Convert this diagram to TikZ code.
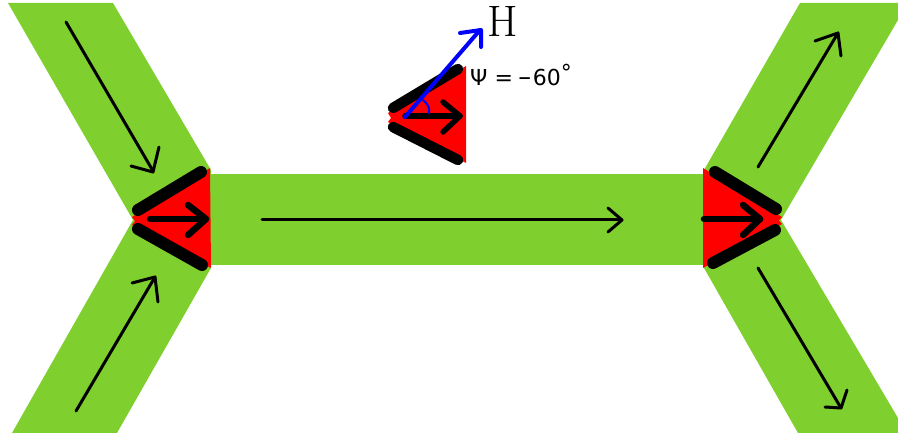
\documentclass[tikz,border=0pt]{standalone}
\usepackage{fontspec}
\usepackage{graphicx}
\newfontfamily\labelfont{DejaVu Sans}
\definecolor{arm}{HTML}{7FCF2F}
\tikzset{
  armfill/.style={fill=arm,draw=none},
  flow/.style={draw=black,line width=3pt,line cap=round,line join=round},
  wedge/.style={fill=red,draw=none},
  wall/.style={draw=black,line width=12pt,line cap=round},
  inner/.style={draw=black,line width=6.5pt,line cap=round,line join=round},
  field/.style={draw=blue,line width=4pt,line cap=round,line join=round},
}
\begin{document}
\begin{tikzpicture}[x=1pt,y=-1pt]
\useasboundingbox (0,0) rectangle (898,435);
% arms and central bar
\fill[armfill] (8,3) -- (113,3) -- (211,170) -- (211,268) -- (117,433) -- (12,433) -- (133,220) -- cycle;
\fill[armfill] (207,174) rectangle (706,265);
\fill[armfill] (800,3) -- (898,3) -- (898,20) -- (781,220) -- (898,418) -- (898,433) -- (798,433) -- (704,268) -- (704,170) -- cycle;
% left wedge
\fill[wedge] (132,217) -- (210,168) -- (211,268) -- (132,225) -- (135,221) -- cycle;
\draw[wall] (138,210) -- (201,172);
\draw[wall] (138,229) -- (202,265);
\draw[inner] (150,219) -- (206,219);
\draw[inner] (188,205) -- (206,219) -- (188,235);
% right wedge
\fill[wedge] (703,168) -- (782,217) -- (779,220.5) -- (782,224) -- (703,268) -- cycle;
\draw[wall] (715,172) -- (776,209);
\draw[wall] (713,263) -- (775,230);
\draw[inner] (704,219) -- (760,219);
\draw[inner] (743,205) -- (760,219) -- (743,235);
% small wedge
\fill[wedge] (388,113) -- (466,66) -- (466,163) -- (388,122) -- (391,118) -- cycle;
\draw[wall,line width=10.5pt] (393,108) -- (458,69);
\draw[wall,line width=10.5pt] (393,127) -- (458,160);
\draw[inner,line width=5.5pt] (405,116) -- (460,116);
\draw[inner,line width=5.5pt] (443,102) -- (460,116) -- (443,132);
\draw[field,line width=2pt] (423,100) .. controls (428,104) and (430,108) .. (429,113);
\draw[field] (405,117) -- (480,30);
\draw[field] (460,33) -- (481,30) -- (481,47);
% flow arrows
\draw[flow] (66,22) -- (153,171);
\draw[flow] (131,166) -- (153,172) -- (159,147);
\draw[flow] (76,411) -- (155,277);
\draw[flow] (132,283) -- (155,277) -- (158,302);
\draw[flow] (262,220) -- (621,220);
\draw[flow] (608,208) -- (622,220) -- (608,232);
\draw[flow] (758,167) -- (838,33);
\draw[flow] (815,41) -- (838,33) -- (841,56);
\draw[flow] (758,268) -- (841,408);
\draw[flow] (825,407) -- (841,408) -- (847,390);
% labels
\node[inner sep=0pt,anchor=center] (hlabel) at (503,21) {\fontsize{44}{44}\selectfont H};
\node[inner sep=0pt,anchor=base west] (psilabel) at (470,86) {\labelfont\fontsize{22}{22}\selectfont Ψ\hspace{7pt}=\hspace{5pt}\scalebox{.75}[1]{−}\hspace{1pt}60\raisebox{5pt}{°}};
\end{tikzpicture}
\end{document}
